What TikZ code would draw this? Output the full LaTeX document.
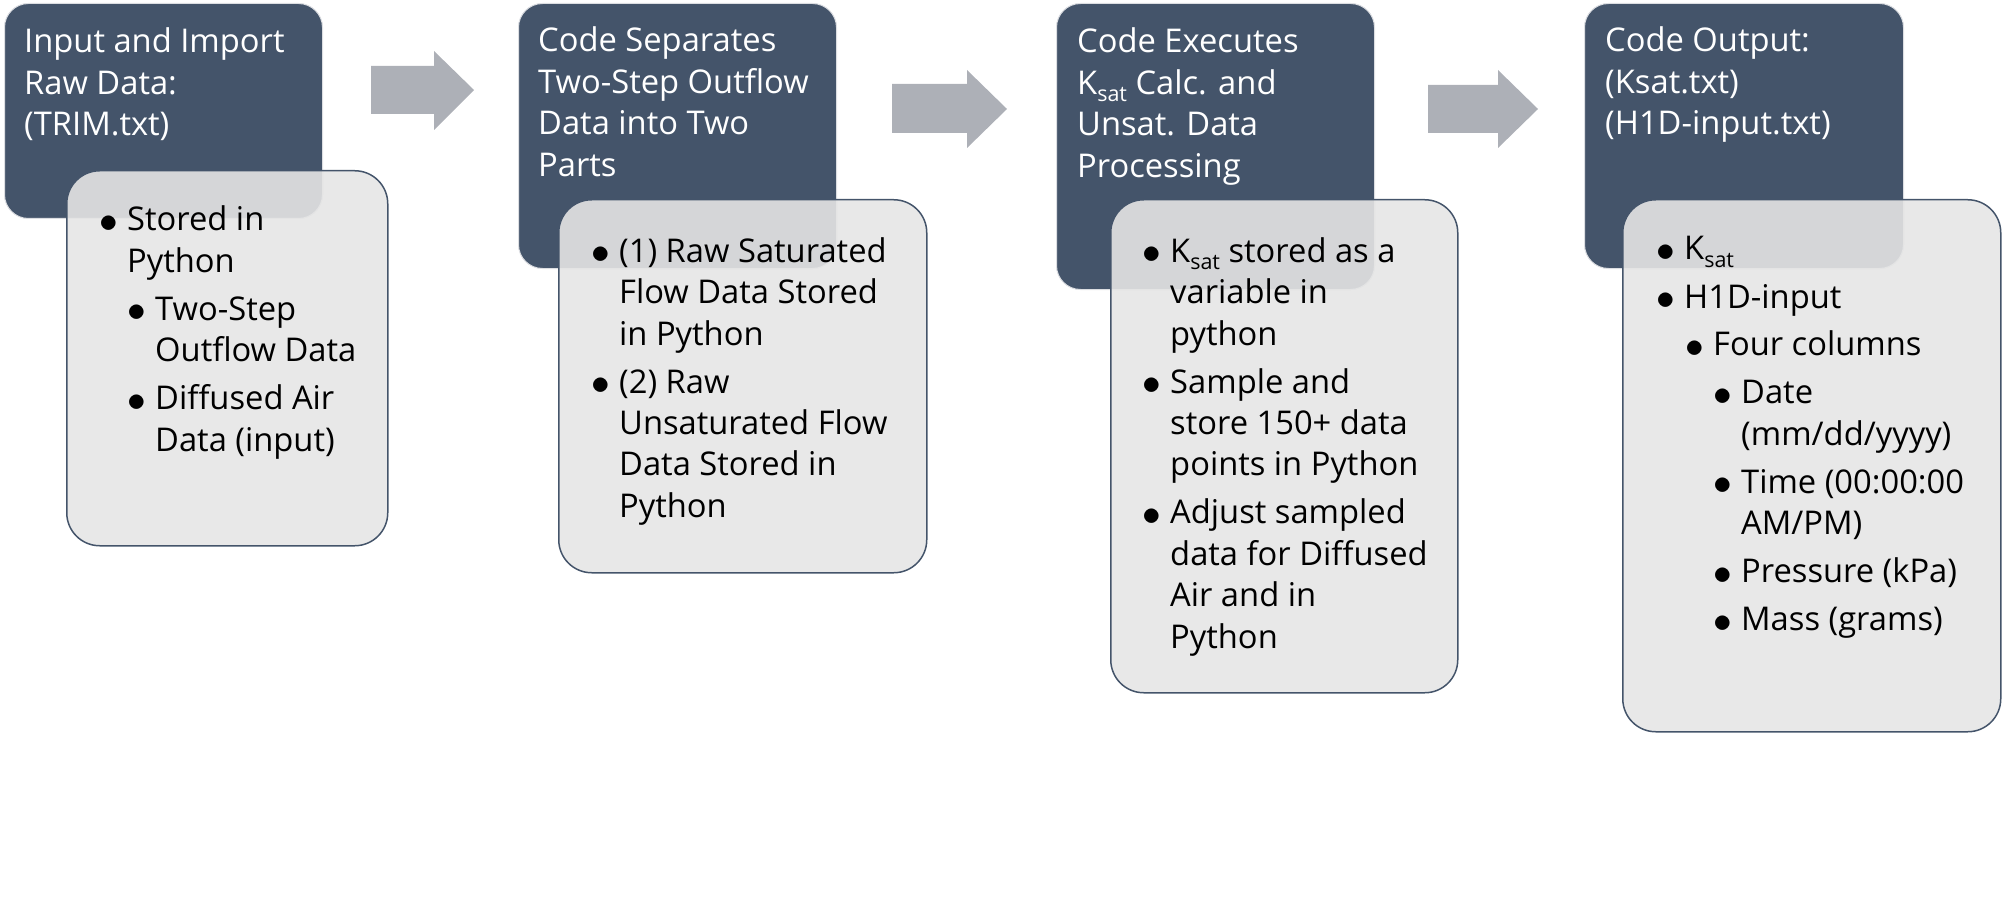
\documentclass[tikz,border=0pt]{standalone}
\usepackage{fontspec}
\setmainfont{Open Sans}
\definecolor{hdr}{HTML}{44546A}
\definecolor{hdredge}{HTML}{DCDEE2}
\definecolor{bodyfill}{HTML}{E5E5E5}
\definecolor{arr}{RGB}{173,176,183}
\newcommand{\tf}{\fontsize{32.7}{41.5}\selectfont}
\newcommand{\Ksat}{K\raisebox{-0.22em}{\fontsize{21.5}{21.5}\selectfont sat}}
\newcommand{\bul}{\hspace*{-3pt}\raisebox{-1.5pt}{\scalebox{1.5}{$\bullet$}}}
\newcommand{\bi}[2]{\par\noindent\hangindent=\dimexpr#1+25pt\relax\hangafter=1 \hspace*{#1}\makebox[25pt][l]{\bul}#2}
\newenvironment{blk}{\begin{minipage}[t]{440pt}\tf\setlength{\parskip}{6.5pt}\setlength{\parindent}{0pt}}{\end{minipage}}
\tikzset{
  hdrbox/.style={draw=hdredge, line width=1pt, fill=hdr, rounded corners=24pt, anchor=north west, inner sep=0pt},
  bodybox/.style={draw=hdr, line width=1.5pt, fill=bodyfill, fill opacity=0.9, rounded corners=33pt, anchor=north west, inner sep=0pt},
  ttl/.style={anchor=base west, inner sep=0pt, text=white},
  bdy/.style={anchor=base west, inner sep=0pt, text=black},
  blockarrow/.style={fill=arr, draw=none}
}
\begin{document}
\begin{tikzpicture}[x=1pt, y=-1pt]
\useasboundingbox (0,0) rectangle (2003,904);
% header boxes
\node[hdrbox, minimum width=318pt, minimum height=215pt] (h1) at (4,3) {};
\node[hdrbox, minimum width=318pt, minimum height=265pt] (h2) at (518,3) {};
\node[hdrbox, minimum width=318pt, minimum height=286pt] (h3) at (1056,3) {};
\node[hdrbox, minimum width=319pt, minimum height=265pt] (h4) at (1584,3) {};
% titles
\node[ttl] (t1) at (24,53) {\begin{blk}Input and Import\\Raw Data:\\(TRIM.txt)\end{blk}};
\node[ttl] (t2) at (538,52) {\begin{blk}Code Separates\\Two-Step Outflow\\Data into Two\\Parts\end{blk}};
\node[ttl] (t3) at (1077,53) {\begin{blk}Code Executes\\\Ksat{} Calc. and\\Unsat. Data\\Processing\end{blk}};
\node[ttl] (t4) at (1605,52) {\begin{blk}Code Output:\\(Ksat.txt)\\(H1D-input.txt)\end{blk}};
% body boxes
\node[bodybox, minimum width=321pt, minimum height=375pt] (b1) at (66,170) {};
\node[bodybox, minimum width=368pt, minimum height=373pt] (b2) at (558,199) {};
\node[bodybox, minimum width=347pt, minimum height=493pt] (b3) at (1110,199) {};
\node[bodybox, minimum width=378pt, minimum height=532pt] (b4) at (1622,199) {};
% body text
\node[bdy] (x1) at (102,231) {\begin{blk}
\bi{0pt}{Stored in\\Python}
\bi{28pt}{Two-Step\\Outflow Data}
\bi{28pt}{Diffused Air\\Data (input)}
\end{blk}};
\node[bdy] (x2) at (594,262) {\begin{blk}
\bi{0pt}{(1) Raw Saturated\\Flow Data Stored\\in Python}
\bi{0pt}{(2) Raw\\Unsaturated Flow\\Data Stored in\\Python}
\end{blk}};
\node[bdy] (x3) at (1145,262) {\begin{blk}
\bi{0pt}{\Ksat{} stored as a\\variable in\\python}
\bi{0pt}{Sample and\\store 150+ data\\points in Python}
\bi{0pt}{Adjust sampled\\data for Diffused\\Air and in\\Python}
\end{blk}};
\node[bdy] (x4) at (1659,260) {\begin{blk}
\bi{0pt}{\Ksat}
\bi{0pt}{H1D-input}
\bi{29pt}{Four columns}
\bi{57pt}{Date\\(mm/dd/yyyy)}
\bi{57pt}{Time (00:00:00\\AM/PM)}
\bi{57pt}{Pressure (kPa)}
\bi{57pt}{Mass (grams)}
\end{blk}};
% block arrows
\path[blockarrow] (371,66) -- (434,66) -- (434,51) -- (474,90) -- (434,130) -- (434,114) -- (371,114) -- cycle;
\path[blockarrow] (892,84) -- (967,84) -- (967,70) -- (1007,109) -- (967,148) -- (967,133) -- (892,133) -- cycle;
\path[blockarrow] (1428,85) -- (1498,85) -- (1498,70) -- (1538,109) -- (1498,148) -- (1498,133) -- (1428,133) -- cycle;
\end{tikzpicture}
\end{document}
